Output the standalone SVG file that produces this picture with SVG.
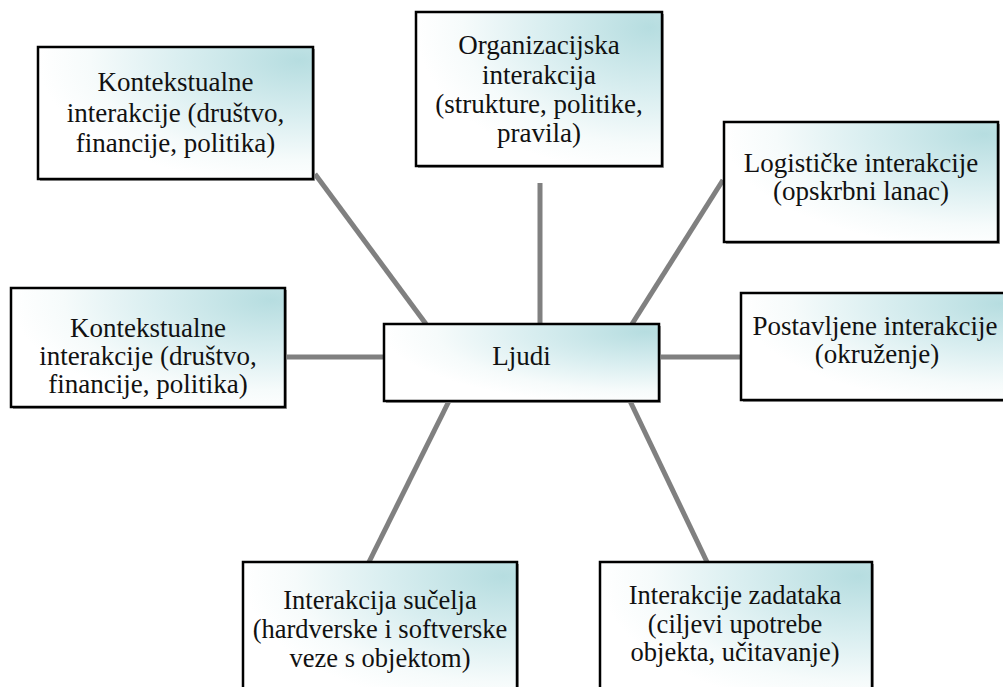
<svg xmlns="http://www.w3.org/2000/svg" width="1003" height="687" viewBox="0 0 1003 687">
<style>
.box{fill:url(#g);stroke:#000;stroke-width:2.5}
.sh{fill:#a0a0a0}
text{font-family:'Liberation Serif','Times New Roman','DejaVu Serif',serif;font-size:27px;fill:#111;text-anchor:middle}
.s{font-size:26.5px}
.c{stroke:#808080;stroke-width:5;fill:none}
</style>
<defs>
<radialGradient id="g" cx="0.95" cy="0.1" r="0.95" fx="0.95" fy="0.1">
<stop offset="0" stop-color="#b6dde0"/>
<stop offset="0.45" stop-color="#d9eef0"/>
<stop offset="0.8" stop-color="#f6fbfb"/>
<stop offset="1" stop-color="#ffffff"/>
</radialGradient>
</defs>
<rect width="1003" height="687" fill="#fff"/>
<g id="connectors">
<line class="c" x1="315" y1="174" x2="426" y2="324"/>
<line class="c" x1="540" y1="183" x2="540" y2="324"/>
<line class="c" x1="723" y1="180" x2="632" y2="324"/>
<line class="c" x1="286" y1="357" x2="384" y2="357"/>
<line class="c" x1="659" y1="357" x2="741" y2="357"/>
<line class="c" x1="449" y1="401" x2="369" y2="562"/>
<line class="c" x1="630" y1="401" x2="707" y2="562"/>
</g>
<g id="n1">
<rect class="sh" x="40" y="49" width="275" height="132"/>
<rect class="box" x="38" y="47" width="275" height="132"/>
<text x="175.5" y="91">Kontekstualne</text>
<text x="175.5" y="121.5">interakcije (društvo,</text>
<text x="175.5" y="152">financije, politika)</text>
</g>
<g id="n2">
<rect class="sh" x="418" y="14" width="246" height="154"/>
<rect class="box" x="416" y="12" width="246" height="154"/>
<text x="539" y="54">Organizacijska</text>
<text x="539" y="83.5">interakcija</text>
<text x="539" y="113">(strukture, politike,</text>
<text x="539" y="142">pravila)</text>
</g>
<g id="n3">
<rect class="sh" x="726" y="124" width="274" height="120"/>
<rect class="box" x="724" y="122" width="274" height="120"/>
<text x="861" y="172">Logističke interakcije</text>
<text x="861" y="200">(opskrbni lanac)</text>
</g>
<g id="n4">
<rect class="sh" x="13" y="290" width="274" height="119"/>
<rect class="box" x="11" y="288" width="274" height="119"/>
<text x="148" y="337">Kontekstualne</text>
<text x="148" y="365">interakcije (društvo,</text>
<text x="148" y="393">financije, politika)</text>
</g>
<g id="n5">
<rect class="sh" x="386" y="326" width="275" height="77"/>
<rect class="box" x="384" y="324" width="275" height="77"/>
<text x="521.5" y="365">Ljudi</text>
</g>
<g id="n6">
<rect class="sh" x="743" y="295" width="274" height="107"/>
<rect class="box" x="741" y="293" width="274" height="107"/>
<text x="875" y="335">Postavljene interakcije</text>
<text x="877" y="363">(okruženje)</text>
</g>
<g id="n7">
<rect class="sh" x="245" y="564" width="274" height="140"/>
<rect class="box" x="243" y="562" width="274" height="140"/>
<text class="s" x="380" y="609">Interakcija sučelja</text>
<text class="s" x="380" y="638">(hardverske i softverske</text>
<text class="s" x="380" y="667">veze s objektom)</text>
</g>
<g id="n8">
<rect class="sh" x="602" y="564" width="272" height="140"/>
<rect class="box" x="600" y="562" width="272" height="140"/>
<text class="s" x="735" y="604">Interakcije zadataka</text>
<text class="s" x="735" y="633">(ciljevi upotrebe</text>
<text class="s" x="735" y="661">objekta, učitavanje)</text>
</g>
</svg>
